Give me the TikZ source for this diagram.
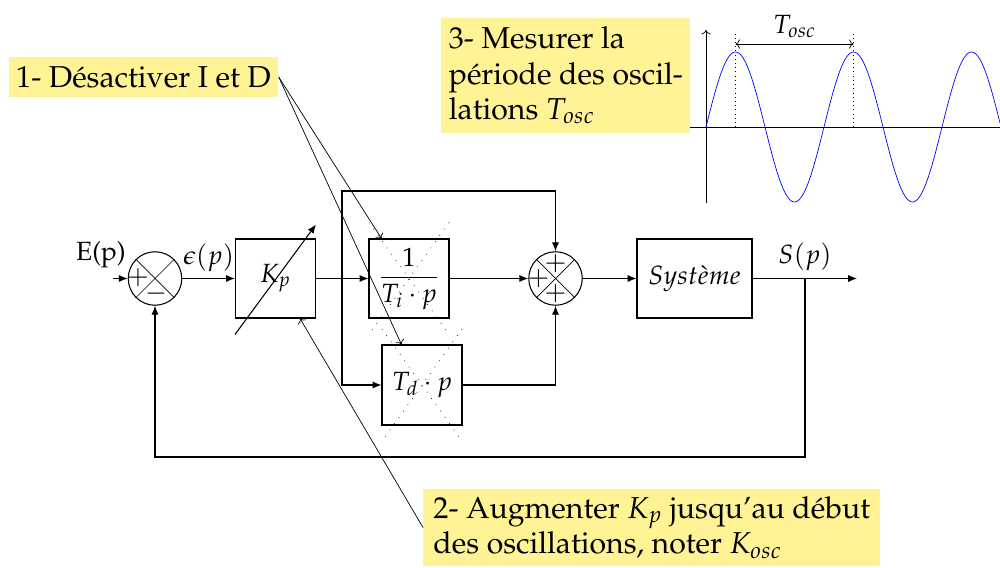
\documentclass[tikz,border=0pt]{standalone}
\usepackage[T1]{fontenc}
\usepackage{mathpazo}
\usetikzlibrary{positioning,arrows.meta,calc}
\definecolor{notejaune}{RGB}{255,243,150}

\begin{document}
\begin{tikzpicture}[
  font=\fontsize{15}{18}\selectfont,
  bloc/.style={draw, semithick, minimum width=1.6cm, minimum height=1.58cm, inner sep=2pt},
  somme/.style={draw, semithick, circle, minimum size=1.07cm, inner sep=0pt},
  signe/.style={inner sep=0pt},
  note/.style={fill=notejaune, inner ysep=0.1cm, inner xsep=0.15cm, align=left,
               font=\fontsize{17.2}{20}\selectfont},
  sig/.style={semithick, -{Latex[length=5pt,width=4pt]}},
]
\useasboundingbox (0,0) rectangle (20,11.34);

% oscillogramme
\coordinate (ybas) at (14.12,7.28);
\coordinate (yhaut) at (14.12,10.74);
\draw[->] (ybas) -- (yhaut);
\draw (13.8,8.8) -- (20,8.8);
\draw[blue, domain=0:5.88, samples=200, smooth] plot ({14.12+\x},{8.8+1.5*sin(\x*360/2.36)});
\draw[dotted] (14.71,8.8) -- (14.71,10.68);
\draw[dotted] (17.07,8.8) -- (17.07,10.68);
\draw[<->] (14.71,10.46) -- (17.07,10.46) node[midway, above] (tosc) {$T_{osc}$};

% chaine directe
\node[somme] (s1) at (3.1,5.77) {};
\node[bloc]  (kp) at (5.51,5.77) {$K_p$};
\node[bloc]  (ti) at (8.18,5.77) {$\displaystyle\frac{1}{T_i\cdot p}$};
\node[bloc, minimum height=1.6cm] (td) at (8.44,3.64) {$T_d\cdot p$};
\node[somme] (s2) at (11.11,5.77) {};
\node[bloc, minimum width=2.3cm] (sys) at (13.89,5.77) {$Syst\grave{e}me$};

\foreach \s in {s1,s2} {
  \draw (\s.north west) -- (\s.south east);
  \draw (\s.north east) -- (\s.south west);
}
\node[signe] (p1) at ($(s1)+(-0.34,0.02)$) {$+$};
\node[signe] (m1) at ($(s1)+(0.02,-0.3)$) {$-$};
\node[signe] (p2) at ($(s2)+(0,0.3)$)   {$+$};
\node[signe] (p3) at ($(s2)+(-0.34,0)$) {$+$};
\node[signe] (p4) at ($(s2)+(0,-0.3)$)  {$+$};

% I et D desactives
\foreach \b in {ti,td} {
  \draw[loosely dotted] ($(\b)+(-0.8,1.12)$) -- ($(\b)+(0.8,-1.12)$);
  \draw[loosely dotted] ($(\b)+(0.8,1.12)$) -- ($(\b)+(-0.8,-1.12)$);
}

% gain reglable
\draw[sig] ($(kp.south west)+(0,-0.32)$) -- ($(kp.north east)+(0,0.28)$);

% liaisons
\coordinate (entree) at (2.26,5.77);
\coordinate (b1) at (6.84,5.77);
\coordinate (haut) at (6.84,7.52);
\coordinate (b2) at (16.1,5.77);
\coordinate (sortie) at (17.14,5.77);
\coordinate (retour) at (3.1,2.2);
\node (ep) at (2.02,6.24) {E(p)};
\draw[sig] (entree) -- (s1.west);
\draw[sig] (s1.east) -- (kp.west) node[midway, above] (eps) {$\epsilon(p)$};
\draw[sig] (kp.east) -- (ti.west);
\draw[sig] (b1) |- (td.west);
\draw[sig] (b1) -- (haut) -| (s2.north);
\draw[sig] (ti.east) -- (s2.west);
\draw[sig] (td.east) -| (s2.south);
\draw[sig] (s2.east) -- (sys.west);
\draw[sig] (sys.east) -- (sortie);
\node (sp) at (16.1,6.2) {$S(p)$};
\draw[sig] (b2) |- (retour) -- (s1.south);

% etapes
\node[note, minimum width=5.26cm, minimum height=0.8cm] (n1) at (2.87,9.8) {1- Désactiver I et D};
\node[note, anchor=west, minimum height=2.3cm] (n3) at (8.82,9.83)
  {3- Mesurer la\\période des oscil-\\lations $T_{osc}$};
\node[note, anchor=west, inner xsep=0.2cm, minimum width=9.14cm, minimum height=1.54cm] (n2) at (8.46,0.79)
  {2- Augmenter $K_p$ jusqu'au début\\des oscillations, noter $K_{osc}$};

\draw[->] (n1.east) -- ([xshift=0.26cm]ti.north west);
\draw[->] (n1.east) -- ([xshift=0.4cm]td.north west);
\draw[->] (n2.west) -- ([xshift=-0.32cm]kp.south east);
\end{tikzpicture}
\end{document}
